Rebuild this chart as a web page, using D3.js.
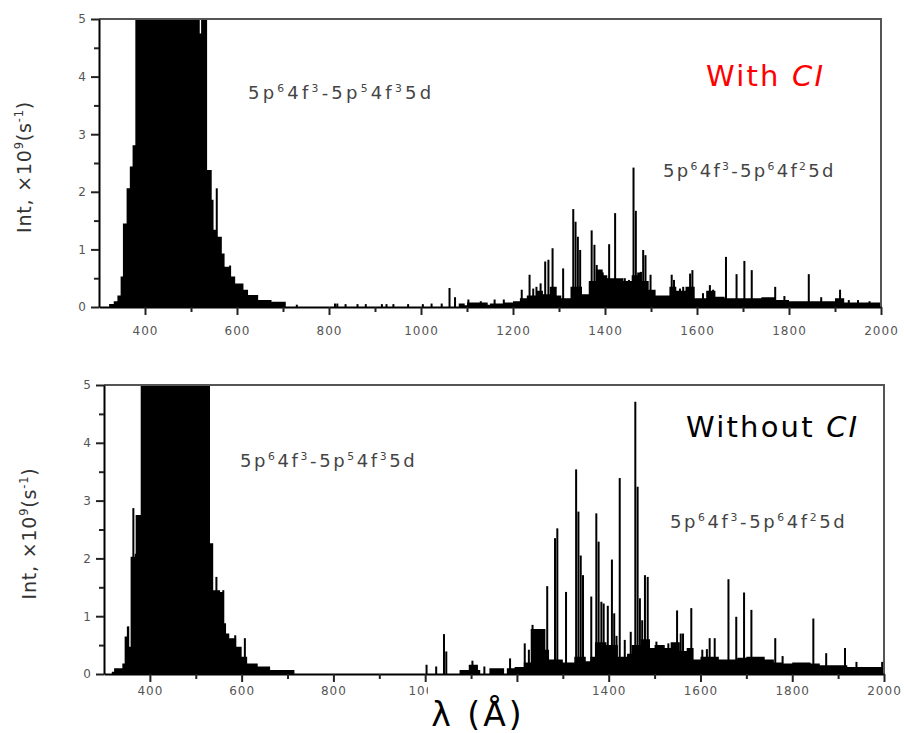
<!DOCTYPE html>
<html><head><meta charset="utf-8">
<script src="https://cdn.jsdelivr.net/npm/d3@7"></script>
<style>body{margin:0;background:#fff}svg{display:block}</style>
</head><body><svg id="c" width="904" height="733"></svg>
<script>
// ---------------- data ----------------
const xTickMajor = [400, 600, 800, 1000, 1200, 1400, 1600, 1800, 2000];
const xTickMinor = [500, 700, 900, 1100, 1300, 1500, 1700, 1900];
const yTickMajor = [0, 1, 2, 3, 4, 5];
const yTickMinor = [0.5, 1.5, 2.5, 3.5, 4.5];
const bottomLabelsHiddenByTitle = [1200];   // covered by the λ title in the original
const panelTitles = ["With CI", "Without CI"];
const xAxisTitle = "λ (Å)";

// dense (unresolved) part of the spectrum: [wavelength start (Å), intensity] step breakpoints
const withCIEnvelope = [
  [300,0],[322,0.05],[332,0.1],[340,0.2],[347,0.53],[352,1.45],[360,2.06],[367,2.44],[373,2.81],
  [379,9],[519,4.75],[522,9],[535,2.38],[545,1.86],[549,1.34],[556,1.22],[567,0.93],[573,0.7],
  [586,0.53],[596,0.41],[614,0.3],[624,0.21],[646,0.12],[675,0.09],[706,0],
  [1082,0.06],[1095,0.03],[1100,0.08],[1145,0.04],[1150,0.06],[1180,0.08],[1200,0.1],[1215,0.15],
  [1230,0.2],[1250,0.28],[1265,0.22],[1280,0.35],[1295,0.2],[1305,0.15],[1325,0.35],[1350,0.22],
  [1365,0.45],[1380,0.65],[1395,0.55],[1405,0.5],[1440,0.45],[1458,0.55],[1470,0.6],[1480,0.45],
  [1495,0.3],[1510,0.2],[1540,0.35],[1555,0.28],[1575,0.35],[1595,0.15],[1620,0.28],[1640,0.18],
  [1660,0.15],[1740,0.17],[1770,0.12],[1800,0.1],[1900,0.15],[1920,0.08],[2000,0]
];
// resolved lines: [wavelength (Å), intensity]
const withCILines = [
  [556,2.06],[585,0.72],[730,0.04],[813,0.06],[818,0.06],[836,0.05],[862,0.05],[880,0.05],
  [915,0.05],[925,0.05],[940,0.05],[972,0.05],[1004,0.05],[1023,0.06],[1045,0.06],[1062,0.33],
  [1074,0.17],[1103,0.13],[1130,0.1],[1160,0.13],[1180,0.13],[1219,0.3],[1236,0.56],[1244,0.32],
  [1251,0.35],[1260,0.41],[1270,0.79],[1277,0.82],[1286,1.02],[1291,0.32],[1309,0.67],[1331,1.7],
  [1336,1.48],[1341,1.22],[1346,0.99],[1367,0.44],[1371,1.33],[1377,1.08],[1382,0.73],[1389,0.64],
  [1395,0.6],[1409,1.09],[1422,1.63],[1443,0.5],[1452,0.47],[1462,2.42],[1467,1.67],[1474,0.56],
  [1478,0.61],[1483,0.99],[1488,0.9],[1499,0.56],[1545,0.56],[1550,0.47],[1563,0.32],[1570,0.35],
  [1585,0.58],[1590,0.64],[1613,0.24],[1628,0.38],[1635,0.3],[1663,0.87],[1686,0.57],[1703,0.8],
  [1719,0.64],[1770,0.35],[1790,0.19],[1843,0.57],[1870,0.17],[1911,0.3],[1930,0.12],[1950,0.12],
  [1975,0.1]
];

const withoutCIEnvelope = [
  [300,0],[317,0.04],[322,0.1],[340,0.18],[345,0.65],[351,0.82],[355,0.47],[358,2.03],[367,2.08],
  [369,2.75],[380,9],[531,2.26],[538,1.45],[553,1.42],[560,0.88],[566,0.7],[573,0.62],[588,0.47],
  [600,0.3],[612,0.18],[635,0.13],[662,0.07],[715,0],
  [1075,0.07],[1095,0.16],[1115,0.07],[1120,0],[1140,0.1],[1172,0],[1178,0.1],[1195,0.12],
  [1215,0.2],[1230,0.78],[1262,0.42],[1270,0.25],[1300,0.2],[1325,0.3],[1350,0.22],[1360,0.3],
  [1370,0.55],[1395,0.5],[1410,0.5],[1420,0.3],[1440,0.35],[1450,0.5],[1470,0.6],[1490,0.45],
  [1500,0.5],[1520,0.45],[1535,0.55],[1555,0.4],[1570,0.45],[1585,0.25],[1600,0.3],[1640,0.25],
  [1680,0.28],[1700,0.3],[1740,0.25],[1760,0.2],[1780,0.18],[1800,0.2],[1840,0.18],[1860,0.15],
  [1920,0.12],[2000,0]
];
const withoutCILines = [
  [352,0.82],[364,2.87],[545,1.68],[560,1.45],[586,0.67],[607,0.62],
  [1003,0.16],[1024,0.13],[1041,0.69],[1046,0.39],[1103,0.23],[1129,0.13],[1185,0.27],[1217,0.53],
  [1226,0.42],[1234,0.85],[1266,1.52],[1283,2.35],[1288,2.52],[1307,1.42],[1329,3.54],[1334,2.81],
  [1339,2.05],[1344,1.71],[1362,1.34],[1373,2.78],[1378,2.29],[1384,1.25],[1389,1.22],[1398,1.18],
  [1407,1.98],[1412,1.05],[1417,0.66],[1424,3.39],[1435,0.59],[1448,0.73],[1458,4.71],[1463,3.24],
  [1468,1.31],[1473,0.93],[1479,1.71],[1485,1.68],[1504,0.56],[1520,0.5],[1530,0.53],[1544,0.53],
  [1549,1.1],[1557,0.7],[1562,0.7],[1580,1.14],[1604,0.42],[1614,0.43],[1620,0.62],[1631,0.62],
  [1661,1.64],[1678,0.99],[1695,1.41],[1711,1.11],[1763,0.62],[1779,0.31],[1846,0.96],[1874,0.36],
  [1915,0.45],[1940,0.21],[1996,0.21]
];

// transition labels as [text, superscript?] runs
const labelCore = [["5p",0],["6",1],["4f",0],["3",1],["-5p",0],["5",1],["4f",0],["3",1],["5d",0]];
const labelValence = [["5p",0],["6",1],["4f",0],["3",1],["-5p",0],["6",1],["4f",0],["2",1],["5d",0]];
const yAxisTitle = [["Int, ×10",0],["9",1],["(s",0],["-1",1],[")",0]];

// ---------------- drawing ----------------
const svg = d3.select("#c");
const FONT = "'DejaVu Sans', Verdana, sans-serif";

const panels = [
  { env: withCIEnvelope, lines: withCILines, title: panelTitles[0], titleColor: "#ff0000",
    left: 99, right: 881, top: 19, bottom: 307, tickPad: 11, titleX: 706, titleY: 86,
    lab1: [248, 99], lab1ls: 3.2, lab2: [663, 177], lab2ls: 2.3, hidden: [] },
  { env: withoutCIEnvelope, lines: withoutCILines, title: panelTitles[1], titleColor: "#000",
    left: 104, right: 884, top: 385, bottom: 674, tickPad: 4, titleX: 686, titleY: 437,
    lab1: [240, 467], lab1ls: 2.6, lab2: [670, 528], lab2ls: 2.6, hidden: bottomLabelsHiddenByTitle }
];

function richText(g, runs, x, y, size, color, anchor, ls) {
  const t = g.append("text").attr("x", x).attr("y", y)
    .attr("font-family", FONT).attr("font-size", size).attr("fill", color)
    .attr("letter-spacing", ls || 0)
    .attr("text-anchor", anchor || "start");
  let up = false;
  runs.forEach(([s, sup]) => {
    const ts = t.append("tspan").text(s);
    if (sup && !up) { ts.attr("dy", -size * 0.4).attr("font-size", size * 0.6); up = true; }
    else if (sup) { ts.attr("font-size", size * 0.6); }
    else if (up) { ts.attr("dy", size * 0.4); up = false; }
  });
  return t;
}

panels.forEach((p, i) => {
  const x = d3.scaleLinear().domain([300, 2000]).range([p.left, p.right]);
  const y = d3.scaleLinear().domain([0, 5]).range([p.bottom, p.top]);
  const g = svg.append("g");
  const cid = "clip" + i;
  svg.append("clipPath").attr("id", cid).append("rect")
    .attr("x", p.left).attr("y", p.top).attr("width", p.right - p.left).attr("height", p.bottom - p.top);
  const plot = g.append("g").attr("clip-path", `url(#${cid})`);

  const area = d3.area().curve(d3.curveStepAfter)
    .x(d => x(d[0])).y0(y(0)).y1(d => y(d[1]));
  plot.append("path").datum(p.env).attr("d", area).attr("fill", "#000");

  plot.selectAll("rect.ln").data(p.lines).join("rect").attr("class", "ln")
    .attr("x", d => x(d[0]) - 1).attr("width", 2)
    .attr("y", d => y(d[1])).attr("height", d => y(0) - y(d[1]))
    .attr("fill", "#000");

  // frame (top & right)
  g.append("path").attr("d", `M${p.left},${p.top}H${p.right}V${p.bottom}`)
    .attr("fill", "none").attr("stroke", "#555").attr("stroke-width", 2);

  // x axis
  g.append("g").attr("transform", `translate(0,${p.bottom})`)
    .call(d3.axisBottom(x).tickValues(xTickMajor).tickSize(8).tickSizeOuter(0)
      .tickPadding(p.tickPad).tickFormat(d => p.hidden.includes(d) ? "" : d3.format("d")(d)));
  g.append("g").attr("transform", `translate(0,${p.bottom})`)
    .call(d3.axisBottom(x).tickValues(xTickMinor).tickSize(5).tickSizeOuter(0).tickFormat(""))
    .call(a => a.select(".domain").remove());
  // y axis
  g.append("g").attr("transform", `translate(${p.left},0)`)
    .call(d3.axisLeft(y).tickValues(yTickMajor).tickSize(8).tickSizeOuter(0).tickPadding(4).tickFormat(d3.format("d")));
  g.append("g").attr("transform", `translate(${p.left},0)`)
    .call(d3.axisLeft(y).tickValues(yTickMinor).tickSize(5).tickSizeOuter(0).tickFormat(""))
    .call(a => a.select(".domain").remove());
  g.selectAll(".domain").attr("stroke", "#000").attr("stroke-width", 2);
  g.selectAll(".tick line").attr("stroke", "#222").attr("stroke-width", 2);
  g.selectAll(".tick text").attr("font-family", FONT).attr("font-size", 12)
    .attr("letter-spacing", 1).attr("fill", "#555");

  // y title
  const yt = richText(g, yAxisTitle, 0, 0, 19, "#333", "middle", 0.8);
  yt.attr("transform", `translate(${p.left - 68},${(p.top + p.bottom) / 2 + 4}) rotate(-90)`);

  // transition labels
  richText(g, labelCore, p.lab1[0], p.lab1[1], 18, "#444", "start", p.lab1ls);
  richText(g, labelValence, p.lab2[0], p.lab2[1], 18, "#444", "start", p.lab2ls);

  // panel title
  g.append("text").attr("x", p.titleX).attr("y", p.titleY)
    .attr("font-family", "'DejaVu Sans', sans-serif").attr("font-size", 29)
    .attr("letter-spacing", 2.2).attr("fill", p.titleColor)
    .text(p.title.replace(" CI", " ")).append("tspan").attr("font-style", "italic").text("CI");
});

// x axis title on a white patch
svg.append("rect").attr("x", 428).attr("y", 684).attr("width", 106).attr("height", 49).attr("fill", "#fff");
svg.append("text").attr("x", 478).attr("y", 726).attr("text-anchor", "middle")
  .attr("font-family", "'DejaVu Sans', sans-serif").attr("font-size", 33)
  .attr("letter-spacing", 3).attr("fill", "#000")
  .text(xAxisTitle);
</script>
</body></html>
